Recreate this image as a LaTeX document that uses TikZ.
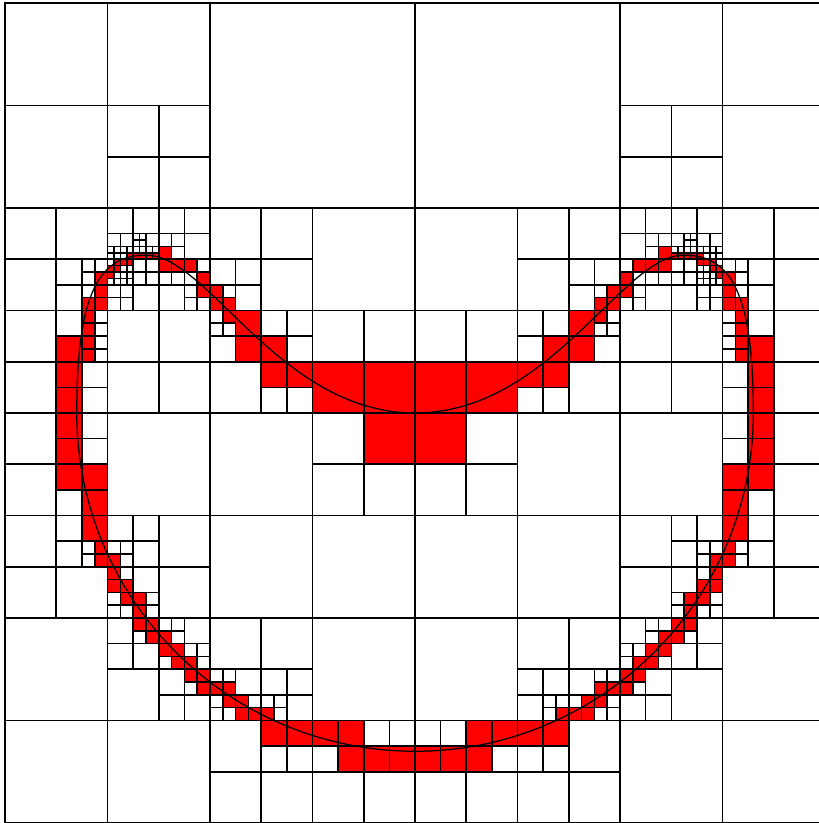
\documentclass[tikz,border=0pt]{standalone}
\usepackage{tikz}

\tikzset{
    cell/.style={draw=black, line width=0.45pt},
    lobe/.style={draw=black, line width=0.35pt}
}

% leaves of the left half of the quadtree (x in [0,4])
\newcommand{\halfmesh}{%
    \foreach \x/\y in {2/6}
        \draw[cell] (\x,\y) rectangle ++(2,2);
    \foreach \x/\y in {0/7, 1/7, 0/6, 3/5, 1/3, 2/3, 2/2, 3/2, 0/1, 3/1, 0/0, 1/0}
        \draw[cell] (\x,\y) rectangle ++(1,1);
    \foreach \x/\y in {1/6.5, 1.5/6.5, 1/6, 1.5/6, 0/5.5, .5/5.5, 0/5, 0/4.5, 0/4, 1/4.5, 1.5/4.5, 1/4, 1.5/4,
                       0/3.5, 0/3, 0/2.5, 0/2, .5/2, 1.5/2.5, 1.5/2, 1/1, 2/1.5, 2.5/1.5, 2/.5, 2/0, 2.5/0, 3/0, 3.5/0,
                       2/5.5, 2.5/5.5, 2.5/5, 2/4, 3/4.5, 3.5/4.5, 3/3.5, 3/3, 3.5/3}
        \draw[cell] (\x,\y) rectangle ++(.5,.5);
    \foreach \x/\y in {3/4, 3.5/4, 3.5/3.5}
        \draw[cell, fill=red] (\x,\y) rectangle ++(.5,.5);
    \foreach \x/\y in {.5/5.25, .5/5, .5/4.75, .75/4.25, .75/4, .75/3.75, .75/3.5, .5/3, .5/2.75, .5/2.5,
                       1/2.75, 1.25/2.75, 1.25/2.5, 1.25/2.25, 1/1.75, 1/1.5, 1.25/1.5, 1.75/1.75, 1.5/1.25, 1.5/1, 1.75/1,
                       2.25/1.25, 2.5/1.25, 2.75/1.25, 2.75/1, 2.5/.5, 2.75/.5, 3/.5, 3.5/.75, 3.75/.75,
                       1.5/5.75, 1.75/5.75, 1.75/5.5, 1.5/5, 2/5.25, 2.25/5.25, 2.25/5, 2/4.5, 2.5/4.75, 2.75/4.75,
                       2.75/4.5, 2.5/4, 2.75/4, 1/5.75, 1.25/5.75, 1.25/5}
        \draw[cell] (\x,\y) rectangle ++(.25,.25);
    \foreach \x/\y in {.5/4.5, .5/4.25, .5/4, .5/3.75, .5/3.5, .5/3.25, .75/3.25, .75/3, .75/2.75,
                       2.5/.75, 2.75/.75, 3/.75, 3.25/.75, 3.25/.5, 3.5/.5, 3.75/.5,
                       2.25/4.75, 2.25/4.5, 2.5/4.5, 2.5/4.25, 2.75/4.25}
        \draw[cell, fill=red] (\x,\y) rectangle ++(.25,.25);
    \foreach \x/\y in {.75/5.375, .875/5.375, .75/5.25, .75/5.125, .875/4.875, .875/4.75, .875/4.625, .875/4.5,
                       .75/2.625, .75/2.5, 1/2.625, 1.125/2.625, 1.125/2.5, 1.125/2.375, 1/2.125, 1/2, 1.125/2,
                       1.375/2.125, 1.375/2, 1.25/1.75, 1.5/1.875, 1.625/1.875, 1.625/1.75, 1.5/1.5,
                       1.75/1.625, 1.875/1.625, 1.875/1.5, 1.75/1.25, 2/1.375, 2.125/1.375, 2/1.125, 2/1, 2.125/1,
                       2.375/1.125, 2.5/1.125, 2.625/1.125, 2.625/1,
                       1.5/5.625, 1.625/5.625, 1.625/5.5, 1.5/5.25, 1.625/5.25, 1.875/5.375, 1.75/5.25,
                       1.75/5.125, 1.75/5, 1.875/5, 2.125/5.125, 2/4.875, 2/4.75, 2.125/4.75,
                       1/5.625, 1.125/5.625, 1.375/5.625, 1.25/5.375, 1.375/5.375, 1.25/5.25, 1.375/5.25,
                       1/5.125, 1.125/5.125, 1/5, 1.125/5}
        \draw[cell] (\x,\y) rectangle ++(.125,.125);
    \foreach \x/\y in {.875/5.25, .875/5.125, .75/5, .875/5, .75/4.875, .75/4.75, .75/4.625, .75/4.5,
                       .875/2.625, .875/2.5, 1/2.5, 1/2.375, 1/2.25, 1.125/2.25, 1.125/2.125, 1.25/2.125, 1.25/2,
                       1.25/1.875, 1.375/1.875, 1.375/1.75, 1.5/1.75, 1.5/1.625, 1.625/1.625, 1.625/1.5, 1.75/1.5,
                       1.75/1.375, 1.875/1.375, 1.875/1.25, 2/1.25, 2.125/1.25, 2.125/1.125, 2.25/1.125, 2.25/1, 2.375/1, 2.5/1,
                       1.5/5.5, 1.5/5.375, 1.625/5.375, 1.75/5.375, 1.875/5.25, 1.875/5.125,
                       2/5.125, 2/5, 2.125/5, 2.125/4.875}
        \draw[cell, fill=red] (\x,\y) rectangle ++(.125,.125);
    \foreach \x/\y in {1/5.5625, 1.0625/5.5625, 1/5.5, 1.0625/5.5, 1.125/5.5625, 1.1875/5.5625, 1.125/5.5,
                       1.25/5.6875, 1.3125/5.6875, 1.25/5.625, 1.3125/5.625, 1.25/5.5625, 1.3125/5.5625,
                       1.375/5.5625, 1.4375/5.5625,
                       1/5.4375, 1.125/5.375, 1.1875/5.375, 1.0625/5.3125, 1.125/5.3125, 1.1875/5.3125,
                       1/5.25, 1.0625/5.25, 1.125/5.25, 1.1875/5.25}
        \draw[cell] (\x,\y) rectangle ++(.0625,.0625);
    \foreach \x/\y in {1.1875/5.5, 1.25/5.5, 1.3125/5.5, 1.375/5.5, 1.4375/5.5,
                       1.0625/5.4375, 1.125/5.4375, 1.1875/5.4375, 1/5.375, 1.0625/5.375, 1/5.3125}
        \draw[cell, fill=red] (\x,\y) rectangle ++(.0625,.0625);
}

\begin{document}
\begin{tikzpicture}
    \useasboundingbox (-0.049,0) rectangle (7.932,8.029);
    \halfmesh
    \begin{scope}[xshift=8cm, xscale=-1]
        \halfmesh
    \end{scope}
    \draw[lobe] (4,4) .. controls (2.68,4) and (1.98,5.54) .. (1.38,5.54)
        .. controls (0.93,5.54) and (0.7,5.2) .. (0.7,4)
        arc[start angle=180, end angle=360, radius=3.3]
        .. controls (7.3,5.2) and (7.07,5.54) .. (6.62,5.54)
        .. controls (6.02,5.54) and (5.32,4) .. (4,4);
\end{tikzpicture}
\end{document}
